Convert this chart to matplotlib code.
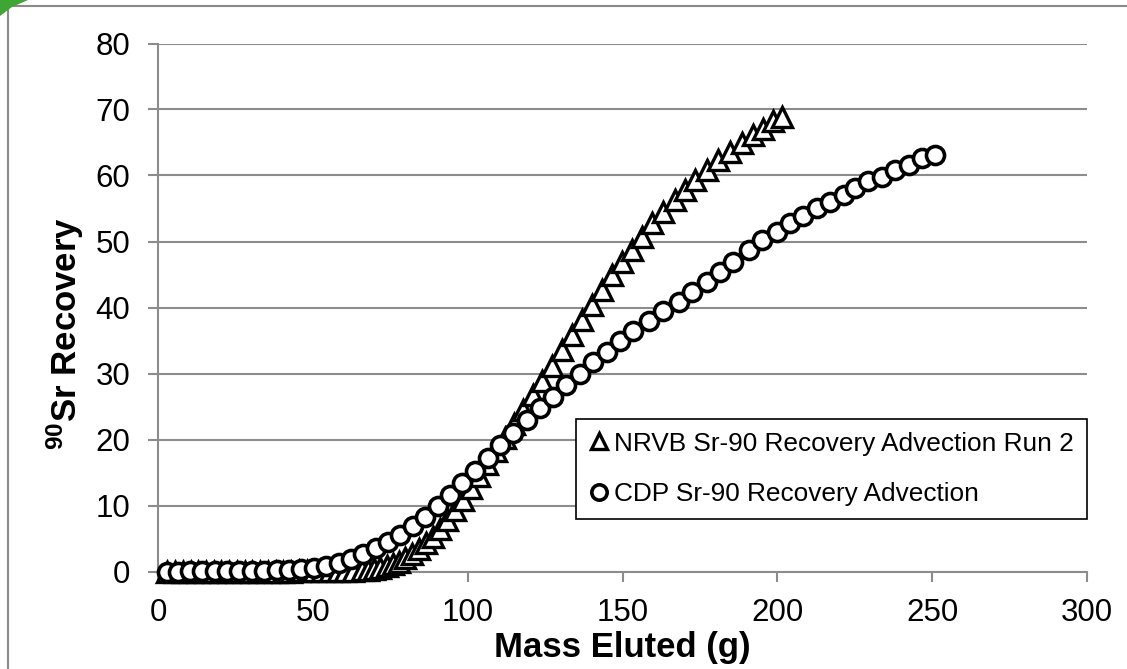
#!/usr/bin/env python3
"""Sr-90 recovery vs mass eluted: NRVB run 2 vs CDP advection."""

import matplotlib
matplotlib.use("Agg")
import matplotlib.pyplot as plt
from matplotlib.patches import Rectangle, Polygon

# NRVB Sr-90 Recovery Advection Run 2 (triangles)
nrvb_x = [3.0, 5.5, 8.0, 10.5, 13.0, 15.5, 18.0, 20.5, 23.0, 25.5, 28.0, 30.5,
          33.0, 35.5, 38.0, 40.5, 43.0, 45.5, 48.0, 50.5, 53.0, 55.5, 58.0,
          60.5, 63.0, 65.8, 67.8, 69.8, 71.8, 73.8, 75.8, 77.8, 79.9, 82.0,
          84.2, 86.4, 88.7, 91.0, 93.4, 95.9, 98.4, 101.0, 103.7, 106.4, 109.2,
          112.0, 115.0, 118.0, 121.0, 124.1, 127.3, 130.5, 133.7, 136.9, 140.1,
          143.3, 146.5, 149.8, 153.0, 156.2, 159.5, 163.2, 167.0, 170.2, 173.4,
          177.2, 181.0, 184.8, 188.5, 192.3, 195.3, 198.5, 201.4]
nrvb_y = [0.0, 0.0, 0.0, 0.0, 0.0, 0.0, 0.0, 0.0, 0.0, 0.0, 0.0, 0.0,
          0.0, 0.0, 0.0, 0.0, 0.0, 0.05, 0.05, 0.05, 0.1, 0.1, 0.1,
          0.15, 0.15, 0.2, 0.3, 0.4, 0.6, 0.8, 1.1, 1.5, 2.0, 2.6,
          3.4, 4.3, 5.3, 6.5, 7.8, 9.3, 10.9, 12.6, 14.4, 16.3, 18.3,
          20.3, 22.4, 24.5, 26.7, 28.9, 31.2, 33.5, 35.8, 38.1, 40.4,
          42.6, 44.9, 46.9, 48.7, 50.7, 52.8, 54.5, 56.3, 57.8, 59.3,
          60.8, 62.3, 63.6, 64.9, 66.1, 67.1, 68.2, 68.9]

# CDP Sr-90 Recovery Advection (circles)
cdp_x = [3.0, 6.3, 10.3, 14.3, 18.3, 22.3, 26.3, 30.3, 34.3, 38.3, 42.3, 46.3,
         50.3, 54.3, 58.3, 62.3, 66.3, 70.3, 74.3, 78.3, 82.3, 86.3, 90.3,
         94.3, 98.3, 102.4, 106.5, 110.6, 114.8, 119.0, 123.3, 127.6, 131.9,
         136.2, 140.5, 144.9, 149.2, 153.5, 158.4, 163.2, 168.1, 172.4, 177.2,
         181.5, 185.8, 190.7, 195.0, 199.8, 204.1, 208.4, 212.8, 217.1, 221.4,
         225.1, 229.4, 233.7, 238.0, 242.4, 246.7, 251.0]
cdp_y = [0.0, 0.0, 0.05, 0.05, 0.1, 0.1, 0.1, 0.1, 0.15, 0.2, 0.25, 0.35,
         0.6, 0.9, 1.3, 1.9, 2.6, 3.5, 4.5, 5.6, 6.9, 8.3, 9.9,
         11.6, 13.4, 15.3, 17.2, 19.1, 21.0, 22.9, 24.7, 26.5, 28.3,
         30.0, 31.7, 33.3, 34.9, 36.4, 38.0, 39.4, 40.9, 42.4, 43.9,
         45.4, 46.9, 48.7, 50.2, 51.5, 52.8, 53.8, 55.0, 56.0, 57.0,
         58.1, 59.1, 59.8, 60.8, 61.6, 62.6, 63.1]

LABELS = ["NRVB Sr-90 Recovery Advection Run 2", "CDP Sr-90 Recovery Advection"]
AXIS_GRAY = "#8c8c8c"

plt.rcParams.update({
    "font.family": ["Liberation Sans", "DejaVu Sans"],
    "mathtext.fontset": "custom",
    "mathtext.rm": "Liberation Sans:bold",
    "mathtext.default": "rm",
})


def main() -> None:
    W, H = 1127, 669
    fig = plt.figure(figsize=(W / 100, H / 100), dpi=100)

    # outer chart frame and the green corner decoration
    fig.patches.append(Rectangle((8 / W, -0.1), 1.2, 1 - 6 / H + 0.1,
                                 transform=fig.transFigure, fill=False,
                                 edgecolor="#8a8a8a", linewidth=1.5))
    fig.patches.append(Polygon([(0, 1), (28 / W, 1), (12 / W, 1 - 7 / H), (0, 1 - 16 / H)],
                               closed=True, transform=fig.transFigure,
                               facecolor="#3fa535", edgecolor="none"))

    ax = fig.add_axes([158 / W, 1 - 571.5 / H, 929 / W, 528 / H])

    ax.plot(nrvb_x, nrvb_y, linestyle="none", marker="^", markersize=14,
            markerfacecolor="white", markeredgecolor="black",
            markeredgewidth=2.4, label=LABELS[0], zorder=3, clip_on=False)
    ax.plot(cdp_x, cdp_y, linestyle="none", marker="o", markersize=13,
            markerfacecolor="white", markeredgecolor="black",
            markeredgewidth=2.6, label=LABELS[1], zorder=4, clip_on=False)

    ax.set_xlim(0, 300)
    ax.set_ylim(0, 80)
    ax.set_xticks(range(0, 301, 50))
    ax.set_yticks(range(0, 81, 10))
    ax.yaxis.grid(True, color=AXIS_GRAY, linewidth=1.5)
    ax.set_axisbelow(True)
    for side in ("top", "right"):
        ax.spines[side].set_visible(False)
    for side in ("left", "bottom"):
        ax.spines[side].set_color(AXIS_GRAY)
        ax.spines[side].set_linewidth(1.5)
    ax.tick_params(axis="both", direction="out", length=7, width=1.5,
                   color=AXIS_GRAY, labelsize=22.5, labelcolor="black")
    ax.tick_params(axis="x", pad=12)
    ax.tick_params(axis="y", pad=13)

    ax.set_xlabel("Mass Eluted (g)", fontsize=25, fontweight="bold", labelpad=2)
    ax.set_ylabel(r"$^{90}$Sr Recovery", fontsize=25, fontweight="bold")
    ax.yaxis.set_label_coords(-0.078, 0.45)

    leg = ax.legend(loc="lower left", bbox_to_anchor=(0.4496, 0.0994),
                    borderaxespad=0.0, fontsize=18.9, frameon=True,
                    fancybox=False, handlelength=0.8, handletextpad=0.15,
                    borderpad=0.5, labelspacing=1.0, markerscale=0.85)
    leg.get_frame().set_edgecolor("black")
    leg.get_frame().set_linewidth(1.2)
    leg.get_frame().set_alpha(1.0)

    fig.savefig("out.png", dpi=100)
    plt.close(fig)


if __name__ == "__main__":
    main()
